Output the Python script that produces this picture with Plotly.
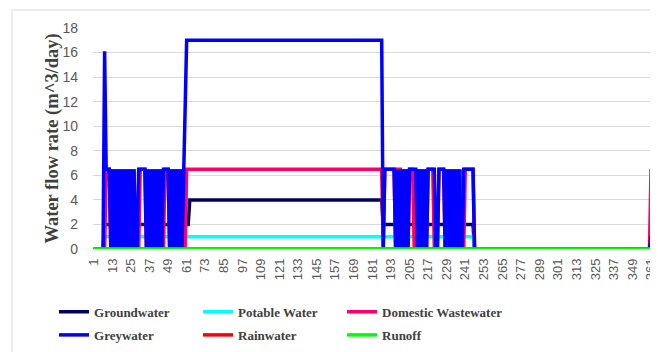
import plotly.graph_objects as go

# ---------------- data ----------------
days = list(range(1, 366))
tick_days = list(range(1, 366, 12))
tick_labels = [str(d) for d in tick_days]

series_names = ["Groundwater", "Potable Water", "Domestic Wastewater",
                "Greywater", "Rainwater", "Runoff"]
series_colors = ["#00005E", "#00FFFF", "#FF0066", "#0000FF", "#FF0000", "#00FF00"]
legend_rows = ["legend", "legend", "legend", "legend2", "legend2", "legend2"]
legend_widths = [99, 99, 150, 99, 99, 150]

# runs of (first day, last day, value in m^3/day)
groundwater_runs = [(1, 7, 0), (8, 62, 2), (63, 187, 4), (188, 246, 2), (247, 365, 0)]
potable_runs = [(1, 7, 0), (8, 246, 1), (247, 365, 0)]
domestic_runs = [
    (1, 8, 0), (9, 11, 6.5), (12, 12, 0), (13, 13, 6.5), (14, 14, 0), (15, 15, 6.5),
    (16, 16, 0), (17, 17, 6.5), (18, 18, 0), (19, 19, 6.5), (20, 20, 0), (21, 21, 6.5),
    (22, 22, 0), (23, 23, 6.5), (24, 24, 0), (25, 25, 6.5), (26, 26, 0), (27, 27, 6.5),
    (28, 28, 0), (29, 30, 0), (31, 34, 6.5), (35, 35, 0), (36, 36, 6.5), (37, 37, 0),
    (38, 38, 6.5), (39, 39, 0), (40, 40, 6.5), (41, 41, 0), (42, 42, 6.5), (43, 43, 0),
    (44, 44, 6.5), (45, 46, 0), (47, 49, 6.5), (50, 50, 0), (51, 51, 6.5), (52, 52, 0),
    (53, 53, 6.5), (54, 54, 0), (55, 55, 6.5), (56, 56, 0), (57, 57, 6.5), (58, 58, 0),
    (59, 59, 6.5), (60, 60, 0), (61, 187, 6.5), (188, 188, 0),
    (189, 195, 6.5), (196, 196, 0), (197, 199, 6.5), (200, 200, 0), (201, 201, 6.5),
    (202, 202, 0), (203, 203, 6.5), (204, 204, 0), (205, 207, 6.5), (208, 208, 0),
    (209, 209, 6.5), (210, 210, 0), (211, 211, 6.5), (212, 212, 0), (213, 213, 6.5),
    (214, 214, 0), (215, 215, 6.5), (216, 216, 0), (217, 220, 6.5), (221, 223, 0),
    (224, 227, 6.5), (228, 228, 0), (229, 229, 6.5), (230, 230, 0), (231, 231, 6.5),
    (232, 232, 0), (233, 233, 6.5), (234, 234, 0), (235, 235, 6.5), (236, 236, 0),
    (237, 237, 6.5), (238, 238, 0), (239, 239, 6.5), (240, 240, 0), (241, 246, 6.5),
    (247, 360, 0), (361, 361, 6.5), (362, 365, 0)]
greywater_runs = [
    (1, 7, 0), (8, 8, 16.1), (9, 11, 6.5), (12, 12, 0), (13, 13, 6.5), (14, 14, 0),
    (15, 15, 6.5), (16, 16, 0), (17, 17, 6.5), (18, 18, 0), (19, 19, 6.5), (20, 20, 0),
    (21, 21, 6.5), (22, 22, 0), (23, 23, 6.5), (24, 24, 0), (25, 25, 6.5), (26, 26, 0),
    (27, 27, 6.5), (28, 28, 0), (29, 29, 0),
    (30, 34, 6.5), (35, 35, 0), (36, 36, 6.5), (37, 37, 0), (38, 38, 6.5), (39, 39, 0),
    (40, 40, 6.5), (41, 41, 0), (42, 42, 6.5), (43, 43, 0), (44, 44, 6.5), (45, 45, 0),
    (46, 49, 6.5), (50, 50, 0),
    (51, 51, 6.5), (52, 52, 0), (53, 53, 6.5), (54, 54, 0), (55, 55, 6.5), (56, 56, 0),
    (57, 57, 6.5), (58, 58, 0), (59, 59, 6.5), (60, 60, 9.5), (61, 187, 17), (188, 188, 0),
    (189, 195, 6.5), (196, 196, 0), (197, 197, 6.5), (198, 198, 0), (199, 199, 6.5),
    (200, 200, 0), (201, 201, 6.5), (202, 202, 0), (203, 203, 6.5), (204, 204, 0),
    (205, 209, 6.5), (210, 210, 0), (211, 211, 6.5), (212, 212, 0), (213, 213, 6.5),
    (214, 214, 0), (215, 215, 6.5), (216, 216, 0), (217, 221, 6.5), (222, 223, 0),
    (224, 227, 6.5), (228, 228, 0), (229, 229, 6.5), (230, 230, 0), (231, 231, 6.5),
    (232, 232, 0), (233, 233, 6.5), (234, 234, 0), (235, 235, 6.5), (236, 236, 0),
    (237, 237, 6.5), (238, 238, 0), (239, 239, 0), (240, 246, 6.5), (247, 360, 0),
    (361, 361, 1.0), (362, 365, 0)]
rainwater_runs = [(1, 365, 0)]
runoff_runs = [(1, 365, 0)]


def expand(runs):
    out = []
    for first, last, value in runs:
        out.extend([value] * (last - first + 1))
    assert len(out) == len(days)
    return out


series_values = [expand(r) for r in (groundwater_runs, potable_runs, domestic_runs,
                                     greywater_runs, rainwater_runs, runoff_runs)]

# ---------------- figure ----------------
fig = go.Figure()
for name, color, vals, lg, lw in zip(series_names, series_colors, series_values,
                                     legend_rows, legend_widths):
    fig.add_trace(go.Scatter(x=days, y=vals, mode="lines", name=name, legend=lg,
                             legendwidth=lw, line=dict(color=color, width=3.5)))

legend_style = dict(orientation="h", xanchor="left", yanchor="top",
                    font=dict(family="Liberation Serif", size=13, color="#404040",
                              weight="bold"),
                    itemwidth=30, traceorder="normal", bgcolor="rgba(0,0,0,0)")

fig.update_layout(
    width=650, height=344,
    margin=dict(l=85, r=0, t=20, b=103, autoexpand=False),
    paper_bgcolor="white", plot_bgcolor="white",
    font=dict(family="Liberation Sans", color="#595959"),
    legend=dict(x=-0.069, y=-0.216, **legend_style),
    legend2=dict(x=-0.069, y=-0.321, **legend_style),
    xaxis=dict(range=[0.5, 365.5], tickmode="array", tickvals=tick_days, ticktext=tick_labels,
               tickangle=-90, showgrid=False, zeroline=False, showline=False, ticks="",
               tickfont=dict(size=13, color="#595959"), ticklabelstandoff=6,
               ticklabeloverflow="allow"),
    yaxis=dict(range=[0, 18], tick0=0, dtick=2, gridcolor="#D9D9D9", gridwidth=1,
               zeroline=False, showline=False, ticks="",
               tickfont=dict(size=14, color="#595959"), ticklabelstandoff=14),
    annotations=[dict(text="<b>Water flow rate (m^3/day)</b>", textangle=-90,
                      xref="paper", yref="paper", x=0, y=0.5, xshift=-41,
                      xanchor="center", yanchor="middle", showarrow=False,
                      font=dict(family="Liberation Serif", size=18.5, color="#404040"))],
    shapes=[dict(type="rect", xref="paper", yref="paper",
                 x0=(4 - 85) / 565, x1=1.3, y0=-0.7, y1=(241 - 2) / 221,
                 line=dict(color="#D9D9D9", width=1), layer="below")],
)

fig.write_html("out.html")
